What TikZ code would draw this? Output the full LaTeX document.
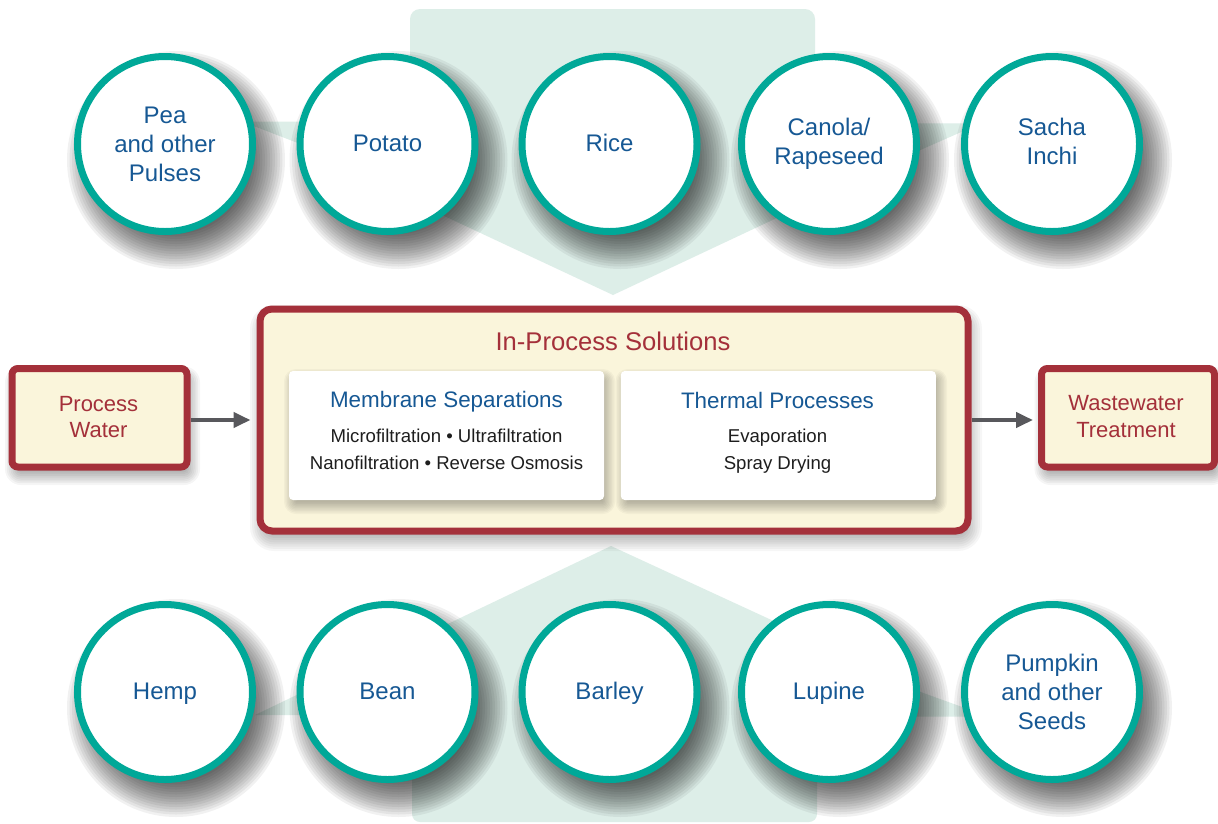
\documentclass[tikz,border=0pt]{standalone}
\usepackage{fontspec}
\setmainfont{Liberation Sans}
\usetikzlibrary{arrows.meta}
\definecolor{tealring}{RGB}{0,168,152}
\definecolor{cropblue}{RGB}{22,88,148}
\definecolor{boxred}{RGB}{164,48,58}
\definecolor{cream}{RGB}{250,245,219}
\definecolor{funnelgreen}{RGB}{221,238,232}
\definecolor{arrowgray}{RGB}{88,88,92}
\definecolor{darktext}{RGB}{30,30,30}
\tikzset{
  crop/.style={circle, draw=tealring, line width=7pt, fill=white, minimum size=175pt, inner sep=0pt,
    align=center, text=cropblue, font=\fontsize{24}{29}\selectfont},
  onetext/.style={text height=15.2pt, text depth=0pt},
  redbox/.style={draw=boxred, line width=7pt, fill=cream, inner sep=0pt},
  whitebox/.style={fill=white, rounded corners=4pt, inner sep=0pt},
  redtext/.style={text=boxred, align=center, inner sep=0pt},
  subhead/.style={text=cropblue, inner sep=0pt, font=\fontsize{22.4}{26}\selectfont},
  bodytext/.style={text=darktext, align=center, inner sep=0pt, font=\fontsize{18.6}{27}\selectfont},
  arr/.style={draw=arrowgray, line width=4pt, -{Triangle[length=17pt,width=15pt]}},
  funnel/.style={fill=funnelgreen}
}
% soft shadow of a ring: centre x, centre y
\newcommand\ringshadow[2]{%
  \foreach \k in {0,...,14}{%
    \pgfmathsetmacro\rr{109-2.5*\k}%
    \fill[black,opacity=0.055] ({#1+11},{#2+16}) circle[radius=\rr pt];
  }}
% soft shadow of a rounded box: x1 y1 x2 y2 radius blur dx dy opacity
\newcommand\softbox[9]{%
  \foreach \k in {0,...,11}{%
    \pgfmathsetmacro\ee{#6-\k*#6/5.5}%
    \pgfmathsetmacro\rr{max(#5+\ee,0.5)}%
    \fill[black,opacity=#9,rounded corners=\rr pt] ({#1+#7-\ee},{#2+#8-\ee}) rectangle ({#3+#7+\ee},{#4+#8+\ee});
  }}
\begin{document}
\begin{tikzpicture}[x=1pt,y=-1pt]
\useasboundingbox[fill=white] (0,0) rectangle (1218,823);

% background funnels
\fill[funnel] (613,295) -- (410,200) -- (410,100) [rounded corners=10pt] -- (410,9) -- (815,9) -- (815,100) [sharp corners] -- (815,200) -- cycle;
\fill[funnel] (611,546) -- (817,641) -- (817,700) [rounded corners=8pt] -- (817,822) -- (412,822) -- (412,700) [sharp corners] -- (412,641) -- cycle;

% small wedges between circles
\fill[funnel] (242,121.5) -- (312,121.5) -- (312,148.5) -- cycle;
\fill[funnel] (900,123.3) -- (981,123.3) -- (900,159) -- cycle;
\fill[funnel] (255,715) -- (312,715) -- (312,687.6) -- cycle;
\fill[funnel] (900,684.5) -- (900,716.7) -- (989,716.7) -- cycle;

% top row
\ringshadow{165}{144}
\node[crop] (pea) at (165,144) {Pea\\and other\\Pulses};
\ringshadow{387.5}{144}
\node[crop, onetext] (potato) at (387.5,144) {Potato};
\ringshadow{609.5}{144}
\node[crop, onetext] (rice) at (609.5,144) {Rice};
\ringshadow{829}{144}
\node[crop] (canola) at (829,144) {Canola/\\Rapeseed};
\ringshadow{1052}{144}
\node[crop] (sacha) at (1052,144) {Sacha\\Inchi\vphantom{g}};

% central box
\softbox{260}{309}{968}{531}{12}{12}{2}{8}{0.035}
\node[redbox, rounded corners=12pt, minimum width=708pt, minimum height=222pt] (ips) at (614,420) {};
\node[redtext, font=\fontsize{25.6}{30}\selectfont] (ipst) at (613,341.5) {In-Process Solutions};

\softbox{289}{371}{604}{500}{4}{8}{3}{6}{0.03}
\node[whitebox, minimum width=315pt, minimum height=129pt] (mem) at (446.5,435.5) {};
\node[subhead] (memt) at (446.5,402) {Membrane Separations};
\node[bodytext] (meml) at (446.5,449.5) {Microfiltration • Ultrafiltration\\Nanofiltration • Reverse Osmosis};

\softbox{620.6}{371}{936}{500}{4}{8}{3}{6}{0.03}
\node[whitebox, minimum width=315pt, minimum height=129pt] (thm) at (778.3,435.5) {};
\node[subhead] (thmt) at (777.5,400) {Thermal Processes};
\node[bodytext] (thml) at (777.5,451) {Evaporation\\Spray Drying};

% side boxes
\softbox{12}{368.5}{187}{467}{6}{10}{3}{8}{0.04}
\node[redbox, rounded corners=6pt, minimum width=175pt, minimum height=98.5pt] (pw) at (99.5,417.75) {};
\node[redtext, font=\fontsize{22}{26}\selectfont] (pwt) at (98.5,417.5) {Process\\Water};

\softbox{1041.5}{368.5}{1214.5}{467}{6}{10}{3}{8}{0.04}
\node[redbox, rounded corners=6pt, minimum width=173pt, minimum height=98.5pt] (ww) at (1128,417.75) {};
\node[redtext, font=\fontsize{22}{27}\selectfont] (wwt) at (1126,417) {Wastewater\\Treatment};

% arrows
\draw[arr, shorten >=6pt] (pw.east |- ips.west) -- (ips.west);
\draw[arr, shorten >=5pt] (ips.east) -- (ww.west |- ips.east);

% bottom row
\ringshadow{165}{692}
\node[crop, onetext] (hemp) at (165,692) {Hemp};
\ringshadow{387.5}{692}
\node[crop, onetext] (bean) at (387.5,692) {Bean};
\ringshadow{609.5}{692}
\node[crop, onetext] (barley) at (609.5,692) {Barley};
\ringshadow{829}{692}
\node[crop, onetext] (lupine) at (829,692) {Lupine};
\ringshadow{1052}{692}
\node[crop] (pumpkin) at (1052,692) {Pumpkin\\and other\\Seeds};
\end{tikzpicture}
\end{document}
